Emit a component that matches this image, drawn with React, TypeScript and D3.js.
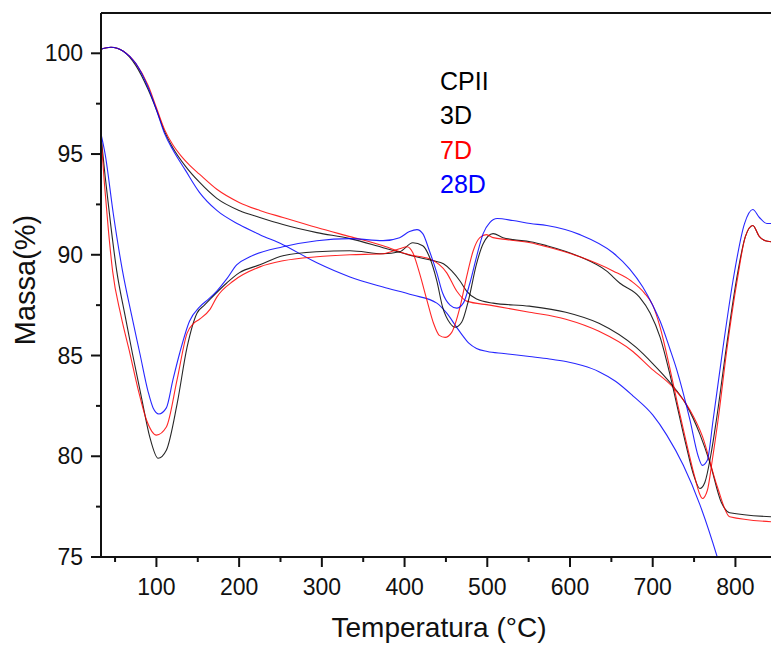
import React from "react";
import * as d3 from "d3";

type P = [number, number];

// Legend entries
const legendTitle = "CPII";
const seriesNames = ["3D", "7D", "28D"];
const seriesColors = ["#000000", "#ff0000", "#0000ff"];

// Axis ticks
const xMajorTicks = [100, 200, 300, 400, 500, 600, 700, 800];
const xMinorTicks = [50, 150, 250, 350, 450, 550, 650, 750];
const yMajorTicks = [75, 80, 85, 90, 95, 100];
const yMinorTicks = [77.5, 82.5, 87.5, 92.5, 97.5];

// TG curves (Massa % vs Temperatura °C)
const tg3D: P[] = [
  [33, 100.2], [45, 100.3], [60, 100.1], [75, 99.4], [90, 98.2], [100, 97.2], [110, 96.1],
  [120, 95.3], [135, 94.4], [152, 93.6], [173, 92.8], [200, 92.2], [225, 91.85], [253, 91.5],
  [294, 91.1], [334, 90.8], [374, 90.35], [414, 89.9], [435, 89.7], [447, 89.55], [457, 89.2],
  [467, 88.7], [475, 88.2], [487, 87.8], [507, 87.6], [551, 87.45], [595, 87.15], [635, 86.6],
  [680, 85.4], [700, 84.6], [720, 83.7], [740, 82.6], [757, 81.1], [769, 79.7], [783, 77.7],
  [793, 77.2], [843, 77.0],
];
const tg7D: P[] = [
  [33, 100.2], [45, 100.3], [60, 100.1], [75, 99.5], [90, 98.4], [100, 97.3], [110, 96.2],
  [120, 95.45], [130, 94.9], [140, 94.45], [152, 94.0], [173, 93.25], [200, 92.6], [225, 92.2],
  [253, 91.85], [294, 91.35], [334, 90.9], [374, 90.45], [406, 90.0], [430, 89.8], [451, 89.1],
  [463, 88.2], [475, 87.7], [503, 87.5], [551, 87.15], [595, 86.8], [635, 86.2], [676, 85.2],
  [697, 84.4], [725, 83.4], [745, 82.3], [760, 81.0], [778, 78.5], [793, 77.0], [843, 76.75],
];
const tg28D: P[] = [
  [33, 100.2], [45, 100.3], [60, 100.1], [75, 99.5], [90, 98.3], [100, 97.2], [110, 96.0],
  [120, 95.2], [135, 94.2], [152, 93.1], [173, 92.2], [200, 91.5], [225, 91.0], [253, 90.5],
  [294, 89.6], [334, 88.9], [374, 88.4], [410, 88.0], [439, 87.6], [451, 87.1], [463, 86.4],
  [470, 86.0], [478, 85.6], [487, 85.35], [500, 85.2], [520, 85.1], [551, 84.95], [575, 84.83],
  [595, 84.7], [615, 84.5], [635, 84.2], [655, 83.72], [676, 83.0], [700, 82.05], [717, 81.05],
  [737, 79.55], [757, 77.6], [778, 75.0], [790, 73.3],
];

// DTG curves plotted on the same axis
const dtg3D: P[] = [
  [33, 95.9], [38, 93.9], [45, 91.4], [52, 89.2], [62, 87.0], [71, 85.1], [82, 82.9], [92, 80.95],
  [102, 79.9], [112, 80.3], [125, 82.6], [137, 85.4], [149, 87.1], [158, 87.5], [165, 87.8],
  [185, 88.6], [200, 89.1], [225, 89.5], [253, 89.95], [294, 90.15], [334, 90.2], [374, 90.05],
  [394, 90.15], [410, 90.6], [422, 90.45], [430, 89.9], [439, 88.7], [446, 87.4], [455, 86.6],
  [461, 86.4], [469, 86.65], [477, 87.7], [487, 89.55], [495, 90.55], [507, 91.05], [519, 90.85],
  [531, 90.75], [552, 90.65], [572, 90.45], [612, 89.9], [644, 89.2], [660, 88.6], [684, 87.9],
  [697, 87.1], [709, 85.9], [720, 84.2], [730, 82.4], [740, 80.6], [750, 79.0], [757, 78.4],
  [763, 78.7], [770, 80.0], [777, 81.8], [789, 85.4], [801, 88.7], [812, 90.9], [821, 91.45],
  [829, 90.9], [836, 90.7], [843, 90.65],
];
const dtg7D: P[] = [
  [33, 95.9], [37, 93.6], [42, 91.2], [47, 89.2], [57, 87.0], [68, 85.1], [78, 83.3], [88, 81.8],
  [100, 81.05], [112, 81.45], [125, 83.8], [137, 86.1], [145, 86.6], [152, 86.8], [165, 87.3],
  [173, 87.9], [193, 88.7], [225, 89.4], [253, 89.7], [294, 89.9], [334, 90.0], [374, 90.05],
  [394, 90.3], [403, 90.4], [410, 90.1], [418, 89.1], [427, 87.75], [435, 86.6], [442, 86.0],
  [449, 85.9], [457, 86.15], [467, 87.4], [475, 88.9], [483, 90.2], [491, 90.85], [499, 91.0],
  [507, 90.85], [524, 90.75], [552, 90.6], [572, 90.4], [612, 89.9], [652, 89.2], [674, 88.7],
  [690, 88.1], [700, 87.5], [709, 86.4], [720, 84.5], [730, 82.6], [740, 80.8], [750, 79.1],
  [757, 78.1], [760, 77.9], [766, 78.3], [772, 79.8], [779, 81.8], [790, 85.4], [802, 88.7],
  [812, 90.9], [821, 91.45], [829, 90.9], [836, 90.7], [843, 90.65],
];
const dtg28D: P[] = [
  [33, 96.0], [38, 95.0], [48, 92.0], [59, 89.2], [70, 87.0], [80, 85.1], [90, 83.2], [96, 82.4],
  [103, 82.1], [112, 82.4], [120, 83.8], [128, 85.1], [140, 86.7], [152, 87.4], [163, 87.8],
  [173, 88.2], [185, 88.8], [197, 89.5], [213, 89.9], [253, 90.4], [294, 90.7], [334, 90.8],
  [374, 90.7], [394, 90.85], [406, 91.15], [415, 91.25], [422, 91.05], [430, 90.2], [439, 89.1],
  [446, 88.1], [455, 87.5], [463, 87.35], [471, 87.6], [479, 88.6], [487, 89.9], [495, 91.05],
  [503, 91.6], [512, 91.8], [531, 91.7], [552, 91.55], [572, 91.45], [612, 91.0], [652, 90.1],
  [672, 89.3], [688, 88.4], [700, 87.5], [709, 86.7], [721, 85.3], [729, 84.3], [745, 81.8],
  [755, 80.0], [760, 79.55], [766, 79.8], [773, 81.8], [785, 85.4], [797, 88.7], [811, 91.55],
  [821, 92.25], [829, 91.85], [838, 91.55], [843, 91.55],
];

const W = 771;
const H = 646;
const L = 101, R = 771, T = 13, B = 557;
const FONT = "'Liberation Sans', Arial, Helvetica, sans-serif";

export default function App() {
  const x = d3.scaleLinear().domain([33, 843]).range([L, R]);
  const y = d3.scaleLinear().domain([75, 102]).range([B, T]);
  const line = d3
    .line<P>()
    .x((d) => x(d[0]))
    .y((d) => y(d[1]))
    .curve(d3.curveMonotoneX);

  const curves: { data: P[]; color: string }[] = [
    { data: tg3D, color: seriesColors[0] },
    { data: tg7D, color: seriesColors[1] },
    { data: tg28D, color: seriesColors[2] },
    { data: dtg3D, color: seriesColors[0] },
    { data: dtg7D, color: seriesColors[1] },
    { data: dtg28D, color: seriesColors[2] },
  ];

  const legend = [
    { label: legendTitle, color: "#000000" },
    ...seriesNames.map((n, i) => ({ label: n, color: seriesColors[i] })),
  ];

  return (
    <svg
      width={W}
      height={H}
      style={{ position: "absolute", left: 0, top: 0, background: "#fff" }}
      fontFamily={FONT}
    >
      <rect x={0} y={0} width={W} height={H} fill="#fff" />
      <defs>
        <clipPath id="plot">
          <rect x={L} y={T} width={R - L} height={B - T} />
        </clipPath>
      </defs>
      <g clipPath="url(#plot)">
        {curves.map((c, i) => (
          <path key={i} d={line(c.data) || ""} fill="none" stroke={c.color} strokeWidth={1.1} strokeOpacity={0.85} />
        ))}
      </g>
      {/* frame */}
      <line x1={L} x2={R} y1={T} y2={T} stroke="#111" strokeWidth={2} />
      <line x1={L} x2={L} y1={T} y2={B + 1} stroke="#111" strokeWidth={2} />
      <line x1={L - 1} x2={R} y1={B} y2={B} stroke="#111" strokeWidth={2} />
      {/* x ticks */}
      {xMajorTicks.map((t) => (
        <g key={"xm" + t}>
          <line x1={x(t)} x2={x(t)} y1={B} y2={B + 10} stroke="#111" strokeWidth={2} />
          <text x={x(t)} y={595} fontSize={23} textAnchor="middle" fill="#111">
            {t}
          </text>
        </g>
      ))}
      {xMinorTicks.map((t) => (
        <line key={"xn" + t} x1={x(t)} x2={x(t)} y1={B} y2={B + 5} stroke="#111" strokeWidth={2} />
      ))}
      {/* y ticks */}
      {yMajorTicks.map((t) => (
        <g key={"ym" + t}>
          <line x1={L - 10} x2={L} y1={y(t)} y2={y(t)} stroke="#111" strokeWidth={2} />
          <text x={83} y={y(t) + 8} fontSize={23} textAnchor="end" fill="#111">
            {t}
          </text>
        </g>
      ))}
      {yMinorTicks.map((t) => (
        <line key={"yn" + t} x1={L - 5} x2={L} y1={y(t)} y2={y(t)} stroke="#111" strokeWidth={2} />
      ))}
      {/* axis titles */}
      <text x={(L + R) / 2 + 3} y={637} fontSize={28} textAnchor="middle" fill="#111">
        Temperatura (°C)
      </text>
      <text
        transform={`translate(35, 280) rotate(-90)`}
        fontSize={29}
        textAnchor="middle"
        fill="#111"
      >
        Massa(%)
      </text>
      {/* legend */}
      {legend.map((l, i) => (
        <text key={l.label} x={440} y={90 + i * 34.3} fontSize={25} fill={l.color}>
          {l.label}
        </text>
      ))}
    </svg>
  );
}
